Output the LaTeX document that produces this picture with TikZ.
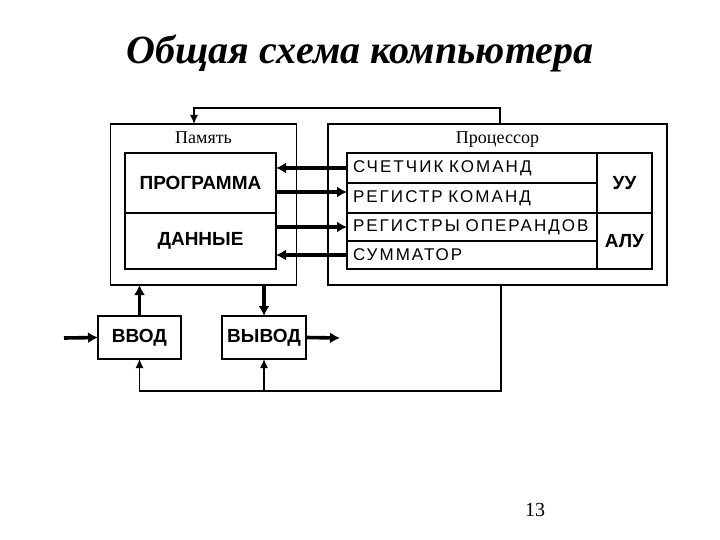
\documentclass[tikz,border=0pt]{standalone}
\usepackage{fontspec}
\setmainfont{Liberation Serif}
\setsansfont{Liberation Sans}
\newfontfamily\spacedfont[LetterSpace=12]{Liberation Sans}
\usetikzlibrary{positioning, arrows.meta}

\begin{document}
\begin{tikzpicture}[x=1pt, y=-1pt]

\tikzstyle{frame} = [
    rectangle,
    draw,
    line width=1.4pt,
    inner sep=0pt,
    outer sep=0pt
];
\tikzstyle{unit} = [
    rectangle,
    draw,
    line width=1.4pt,
    inner sep=0pt,
    outer sep=0pt,
    font=\sffamily\bfseries\fontsize{19}{21}\selectfont
];
\tikzstyle{regrow} = [
    rectangle,
    draw,
    line width=1.4pt,
    inner sep=0pt,
    outer sep=0pt,
    inner xsep=6pt,
    minimum width=250pt,
    minimum height=28pt,
    text width=238pt,
    align=left,
    font=\spacedfont\fontsize{17}{19}\selectfont
];
\tikzstyle{bus} = [line width=3.6pt, -{Latex[length=10pt, width=11pt]}];
\tikzstyle{feed} = [line width=1.3pt, -{Latex[length=9pt, width=8pt]}];
\tikzstyle{divider} = [line width=2.6pt];

\useasboundingbox (0,0) rectangle (720,540);

\node[font=\bfseries\itshape\fontsize{40}{44}\selectfont, anchor=base] (title) at (360,64) {Общая схема компьютера};

% memory
\node[frame, minimum width=186pt, minimum height=161pt] (mem) at (203.5,204.5) {};
\node[font=\fontsize{18}{20}\selectfont, anchor=base] (memlabel) at (203.5,144) {Память};
\node[unit, minimum width=151pt, minimum height=60pt] (prog) at (200.5,183) {ПРОГРАММА};
\node[unit, minimum width=151pt, minimum height=56pt, below=0pt of prog] (data) {ДАННЫЕ};

% processor
\node[frame, minimum width=339pt, minimum height=161pt] (proc) at (497.5,204.5) {};
\node[font=\fontsize{18}{20}\selectfont, anchor=base] (proclabel) at (497.5,144) {Процессор};
\node[regrow, minimum height=30pt] (counter) at (472,168) {СЧЕТЧИК КОМАНД};
\node[regrow, minimum height=30pt, below=0pt of counter] (cmdreg) {РЕГИСТР КОМАНД};
\node[regrow, below=0pt of cmdreg] (opreg) {РЕГИСТРЫ ОПЕРАНДОВ};
\node[regrow, below=0pt of opreg] (adder) {СУММАТОР};
\node[unit, minimum width=55pt, minimum height=60pt] (cu) at (624.5,183) {УУ};
\node[unit, minimum width=55pt, minimum height=56pt, below=0pt of cu] (alu) {АЛУ};
\draw[divider] (cmdreg.south west) -- (cu.south east);
\draw[divider] (opreg.south west) -- (opreg.south east);

% input / output
\node[unit, minimum width=83pt, minimum height=43pt] (in) at (139.5,337.5) {ВВОД};
\node[unit, minimum width=84pt, minimum height=43pt] (out) at (264,337.5) {ВЫВОД};
\coordinate (src) at (64,338);
\coordinate (dst) at (340,338);

\draw[bus] (counter.west) -- (counter.west -| prog.east);
\draw[bus] ([yshift=6pt]cmdreg.west -| prog.east) -- ([yshift=6pt]cmdreg.west);
\draw[bus] (opreg.west -| prog.east) -- (opreg.west);
\draw[bus] (adder.west) -- (adder.west -| prog.east);

\draw[bus] (in.north) -- (in.north |- mem.south);
\draw[bus] (out.north |- mem.south) -- (out.north);
\draw[bus] (src) -- (in.west);
\draw[bus] (out.east) -- (dst);

% feedback lines
\coordinate (upR) at (500,108);
\coordinate (upL) at (194,108);
\coordinate (lowR) at (501,391);
\draw[feed] (upR |- proc.north) -- (upR) -- (upL) -- (upL |- mem.north);
\draw[feed] (lowR |- proc.south) -- (lowR) -| (in.south);
\draw[feed] (out.south |- lowR) -- (out.south);

\node[font=\fontsize{20}{22}\selectfont] (pagenum) at (535,510) {13};

\end{tikzpicture}
\end{document}
